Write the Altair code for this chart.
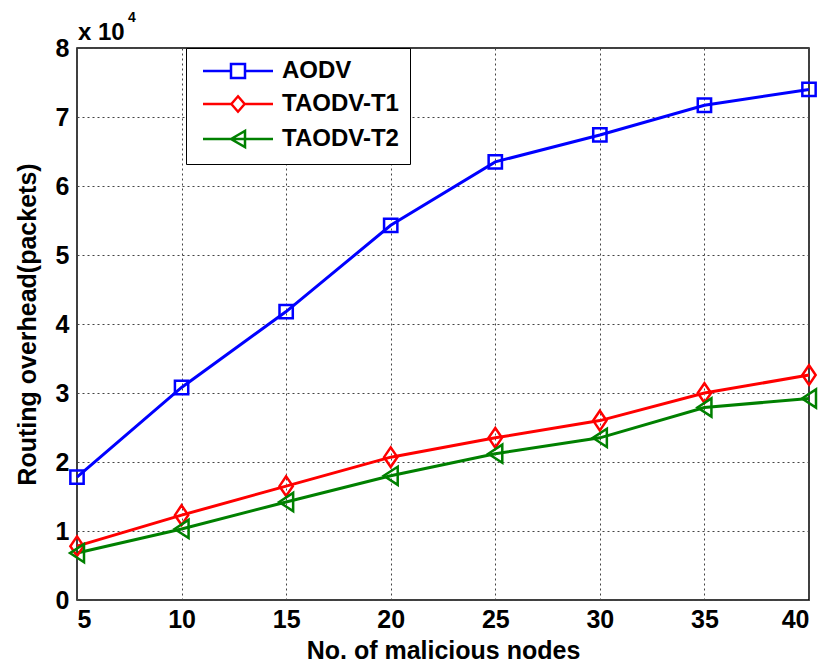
import altair as alt
import pandas as pd

nodes = [5, 10, 15, 20, 25, 30, 35, 40]
aodv = [17800, 30800, 41800, 54300, 63500, 67400, 71700, 74000]
taodv_t1 = [7800, 12300, 16500, 20700, 23500, 26000, 30000, 32600]
taodv_t2 = [6800, 10300, 14200, 18000, 21200, 23500, 27900, 29200]

series_names = ["AODV", "TAODV-T1", "TAODV-T2"]
series_colors = ["#0000ff", "#ff0000", "#008000"]
y_ticks = [0, 10000, 20000, 30000, 40000, 50000, 60000, 70000, 80000]
x_ticks = [5, 10, 15, 20, 25, 30, 35, 40]
x_title = "No. of malicious nodes"
y_title = "Routing overhead(packets)"
exp_base = "x 10"
exp_power = "4"

rows = []
for name, vals in zip(series_names, [aodv, taodv_t1, taodv_t2]):
    for n, v in zip(nodes, vals):
        rows.append({"nodes": n, "packets": v, "series": name})
df = pd.DataFrame(rows)

FONT = "Liberation Sans"

marker_paths = [
    "M-0.95,-0.95H0.95V0.95H-0.95Z",
    "M0,-1.4L0.95,0L0,1.4L-0.95,0Z",
    "M-1,0L1,-1.3L1,1.3Z",
]
legend_paths = [
    "M-5,0H-1M1,0H5M-1,-1H1V1H-1Z",
    "M-5,0H-0.95M0.95,0H5M0,-1.1L0.95,0L0,1.1L-0.95,0Z",
    "M-5,0H5M-1,0L1,-1.15V1.15Z",
]

x_enc = alt.X(
    "nodes:Q",
    scale=alt.Scale(domain=[5, 40], nice=False),
    axis=alt.Axis(values=x_ticks, title=x_title, labelPadding=7, titlePadding=6,
                  labelFont=FONT, labelFontSize=25, labelFontWeight="bold",
                  titleFont=FONT, titleFontSize=25, titleFontWeight="bold"),
)
y_enc = alt.Y(
    "packets:Q",
    scale=alt.Scale(domain=[0, 80000], nice=False),
    axis=alt.Axis(values=y_ticks, labelExpr="datum.value / 10000", title=y_title,
                  labelPadding=8, titlePadding=15,
                  labelFont=FONT, labelFontSize=25, labelFontWeight="bold",
                  titleFont=FONT, titleFontSize=25, titleFontWeight="bold"),
)

color_scale = alt.Scale(domain=series_names, range=series_colors)

lines = alt.Chart(df).mark_line(strokeWidth=3).encode(
    x=x_enc, y=y_enc,
    color=alt.Color("series:N", scale=color_scale, legend=None),
)

points = alt.Chart(df).mark_point(filled=False, strokeWidth=2.5, size=196, opacity=1).encode(
    x=x_enc, y=y_enc,
    color=alt.Color("series:N", scale=color_scale, legend=None),
    shape=alt.Shape("series:N", scale=alt.Scale(domain=series_names, range=marker_paths), legend=None),
)

legend_layer = alt.Chart(df).transform_filter("false").mark_point(
    filled=False, strokeWidth=2.5, size=196, opacity=1
).encode(
    x=x_enc, y=y_enc,
    color=alt.Color(
        "series:N", scale=color_scale,
        legend=alt.Legend(
            orient="none", legendX=109, legendY=0, title=None,
            strokeColor="black", fillColor="white", padding=11, cornerRadius=0,
            symbolSize=196, symbolStrokeWidth=2.5, symbolOffset=29, labelOffset=32,
            labelFont=FONT, labelFontSize=24, labelFontWeight="bold", labelColor="black",
            rowPadding=8,
        ),
    ),
    shape=alt.Shape("series:N", scale=alt.Scale(domain=series_names, range=legend_paths)),
)

exp_df = pd.DataFrame({"t": [exp_base]})
exp_df2 = pd.DataFrame({"t": [exp_power]})
exp_text = alt.Chart(exp_df).mark_text(
    align="left", baseline="alphabetic", font=FONT, fontSize=24, fontWeight="bold", color="black"
).encode(x=alt.value(1), y=alt.value(-8), text="t:N")
exp_text2 = alt.Chart(exp_df2).mark_text(
    align="left", baseline="alphabetic", font=FONT, fontSize=14, fontWeight="bold", color="black"
).encode(x=alt.value(51), y=alt.value(-26), text="t:N")

chart = alt.layer(lines, points, legend_layer, exp_text, exp_text2).resolve_scale(
    color="independent", shape="independent"
).properties(
    width=732, height=552,
    padding={"left": 69, "top": 40, "right": 14, "bottom": 66},
    autosize=alt.AutoSizeParams(type="none"),
    background="white",
).configure_view(
    stroke="black", strokeWidth=1.5
).configure_axis(
    grid=True, gridColor="#444444", gridDash=[2, 3], gridWidth=1, gridOpacity=1,
    domain=False, ticks=False, labelColor="black", titleColor="black",
)

chart.save("out.html", embed_options={"renderer": "svg", "actions": False})
